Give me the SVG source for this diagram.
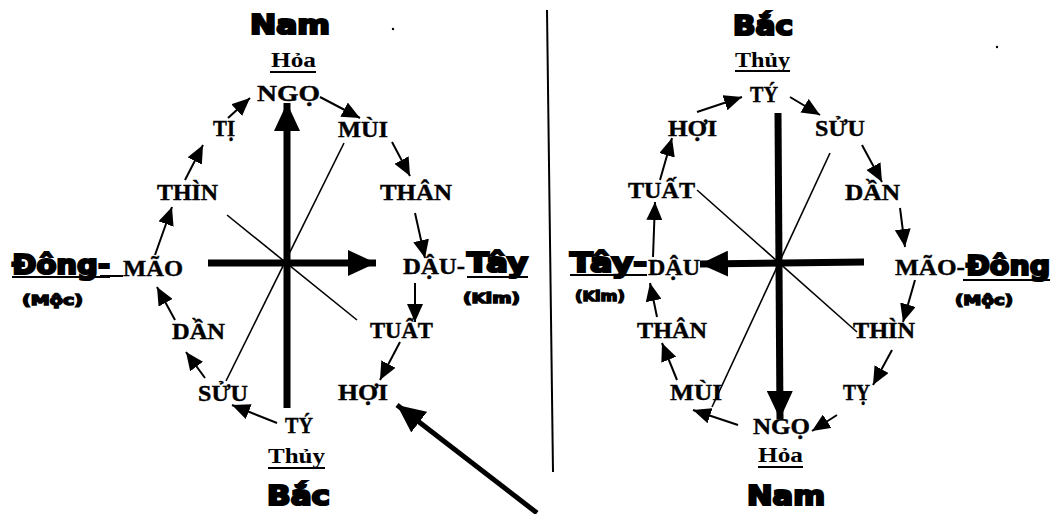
<svg xmlns="http://www.w3.org/2000/svg" width="1056" height="514" viewBox="0 0 1056 514">
<style>
.lb{font-family:"Liberation Serif",serif;font-weight:bold;font-size:23px;fill:#000;stroke:#000;stroke-width:0.4}
.el{font-family:"Liberation Serif",serif;font-weight:bold;font-size:20px;fill:#000}
.hv{font-family:"DejaVu Sans",sans-serif;font-weight:bold;font-size:26px;fill:#000;stroke:#000;stroke-width:2.2}
.sm{font-family:"DejaVu Sans",sans-serif;font-weight:bold;font-size:14px;fill:#000;stroke:#000;stroke-width:1.4}
.ul{stroke:#000;stroke-width:2}
.thin{stroke:#000;stroke-width:1.6;fill:none}
.sa{stroke:#000;stroke-width:2;fill:none;marker-end:url(#sh)}
.ta{stroke:#000;stroke-width:7;fill:none;marker-end:url(#bh)}
</style>
<defs>
<marker id="sh" markerUnits="userSpaceOnUse" viewBox="0 0 18 16" markerWidth="18" markerHeight="16" refX="18" refY="8" orient="auto"><path d="M0,0 L18,8 L0,16 Z" fill="#000"/></marker>
<marker id="bh" markerUnits="userSpaceOnUse" viewBox="0 0 28 26" markerWidth="28" markerHeight="26" refX="28" refY="13" orient="auto"><path d="M0,0 L28,13 L0,26 Z" fill="#000"/></marker>
</defs>
<rect width="1056" height="514" fill="#fff"/>

<g id="connectors">
<line x1="547" y1="10" x2="553" y2="472" stroke="#000" stroke-width="2"/>
<line class="thin" x1="344" y1="143" x2="226" y2="381"/>
<line class="thin" x1="227" y1="215" x2="357" y2="320"/>
<line class="thin" x1="697" y1="190" x2="857" y2="332"/>
<line class="thin" x1="830" y1="153" x2="712" y2="407"/>
<line class="ta" x1="287" y1="408" x2="287" y2="103"/>
<line class="ta" x1="208" y1="263" x2="376" y2="263"/>
<line class="ta" x1="778" y1="113" x2="780" y2="419"/>
<line class="ta" x1="864" y1="262" x2="700" y2="264"/>
<line x1="537" y1="513" x2="397" y2="405" stroke="#000" stroke-width="5" marker-end="url(#bh)"/>
<line class="sa" x1="277" y1="423" x2="232" y2="405"/>
<line class="sa" x1="205" y1="378" x2="186" y2="352"/>
<line class="sa" x1="175" y1="320" x2="157" y2="287"/>
<line class="sa" x1="155" y1="255" x2="172" y2="207"/>
<line class="sa" x1="185" y1="180" x2="203" y2="145"/>
<line class="sa" x1="228" y1="118" x2="250" y2="98"/>
<line class="sa" x1="320" y1="97" x2="360" y2="118"/>
<line class="sa" x1="392" y1="142" x2="410" y2="176"/>
<line class="sa" x1="415" y1="213" x2="425" y2="258"/>
<line class="sa" x1="415" y1="283" x2="415" y2="322"/>
<line class="sa" x1="400" y1="342" x2="380" y2="380"/>
<line class="sa" x1="790" y1="97" x2="820" y2="115"/>
<line class="sa" x1="862" y1="145" x2="882" y2="182"/>
<line class="sa" x1="900" y1="208" x2="905" y2="247"/>
<line class="sa" x1="915" y1="280" x2="903" y2="322"/>
<line class="sa" x1="892" y1="350" x2="873" y2="385"/>
<line class="sa" x1="837" y1="415" x2="812" y2="431"/>
<line class="sa" x1="738" y1="425" x2="693" y2="410"/>
<line class="sa" x1="677" y1="380" x2="662" y2="343"/>
<line class="sa" x1="657" y1="317" x2="650" y2="283"/>
<line class="sa" x1="653" y1="257" x2="655" y2="202"/>
<line class="sa" x1="660" y1="180" x2="672" y2="138"/>
<line class="sa" x1="697" y1="112" x2="742" y2="97"/>
<line class="ul" x1="100" y1="276" x2="123" y2="276"/>
</g>

<g id="l-nam"><text class="hv" x="250" y="34" textLength="80" lengthAdjust="spacingAndGlyphs">Nam</text></g>
<g id="l-hoa"><text class="el" x="271" y="67" textLength="45" lengthAdjust="spacingAndGlyphs">Hỏa</text><line class="ul" x1="270" y1="72" x2="316" y2="72"/></g>
<g id="l-ngo"><text class="lb" x="257" y="101" textLength="63" lengthAdjust="spacingAndGlyphs">NGỌ</text></g>
<g id="l-mui"><text class="lb" x="338" y="137" textLength="50" lengthAdjust="spacingAndGlyphs">MÙI</text></g>
<g id="l-than"><text class="lb" x="380" y="200" textLength="72" lengthAdjust="spacingAndGlyphs">THÂN</text></g>
<g id="l-dau"><text class="lb" x="403" y="274" textLength="62" lengthAdjust="spacingAndGlyphs">DẬU-</text></g>
<g id="l-tay"><text class="hv" x="467" y="272" textLength="61" lengthAdjust="spacingAndGlyphs">Tây</text><line class="ul" x1="467" y1="277" x2="528" y2="277"/><text class="sm" x="463" y="303" textLength="57" lengthAdjust="spacingAndGlyphs">(Kim)</text></g>
<g id="l-tuat"><text class="lb" x="370" y="338" textLength="63" lengthAdjust="spacingAndGlyphs">TUẤT</text></g>
<g id="l-hoi"><text class="lb" x="338" y="400" textLength="50" lengthAdjust="spacingAndGlyphs">HỢI</text></g>
<g id="l-ty"><text class="lb" x="285" y="433" textLength="28" lengthAdjust="spacingAndGlyphs">TÝ</text></g>
<g id="l-thuy"><text class="el" x="268" y="463" textLength="57" lengthAdjust="spacingAndGlyphs">Thủy</text><line class="ul" x1="268" y1="468" x2="325" y2="468"/></g>
<g id="l-bac"><text class="hv" x="267" y="505" textLength="63" lengthAdjust="spacingAndGlyphs">Bắc</text></g>
<g id="l-suu"><text class="lb" x="198" y="401" textLength="50" lengthAdjust="spacingAndGlyphs">SỬU</text></g>
<g id="l-dan"><text class="lb" x="172" y="339" textLength="53" lengthAdjust="spacingAndGlyphs">DẦN</text></g>
<g id="l-mao"><text class="lb" x="123" y="276" textLength="60" lengthAdjust="spacingAndGlyphs">MÃO</text></g>
<g id="l-dong"><text class="hv" x="12" y="274" textLength="98" lengthAdjust="spacingAndGlyphs">Đông-</text><line class="ul" x1="12" y1="277" x2="110" y2="277"/><text class="sm" x="22" y="305" textLength="61" lengthAdjust="spacingAndGlyphs">(Mộc)</text></g>
<g id="l-thin"><text class="lb" x="157" y="200" textLength="61" lengthAdjust="spacingAndGlyphs">THÌN</text></g>
<g id="l-ti"><text class="lb" x="213" y="136" textLength="22" lengthAdjust="spacingAndGlyphs">TỊ</text></g>

<g id="r-bac"><text class="hv" x="733" y="35" textLength="60" lengthAdjust="spacingAndGlyphs">Bắc</text></g>
<g id="r-thuy"><text class="el" x="735" y="67" textLength="55" lengthAdjust="spacingAndGlyphs">Thủy</text><line class="ul" x1="735" y1="71" x2="790" y2="71"/></g>
<g id="r-ty"><text class="lb" x="750" y="102" textLength="28" lengthAdjust="spacingAndGlyphs">TÝ</text></g>
<g id="r-suu"><text class="lb" x="815" y="136" textLength="50" lengthAdjust="spacingAndGlyphs">SỬU</text></g>
<g id="r-dan"><text class="lb" x="845" y="200" textLength="55" lengthAdjust="spacingAndGlyphs">DẦN</text></g>
<g id="r-mao"><text class="lb" x="895" y="275" textLength="70" lengthAdjust="spacingAndGlyphs">MÃO-</text></g>
<g id="r-dong"><text class="hv" x="966" y="275" textLength="84" lengthAdjust="spacingAndGlyphs">Đông</text><line class="ul" x1="963" y1="280" x2="1050" y2="280"/><text class="sm" x="955" y="305" textLength="58" lengthAdjust="spacingAndGlyphs">(Mộc)</text></g>
<g id="r-thin"><text class="lb" x="853" y="338" textLength="62" lengthAdjust="spacingAndGlyphs">THÌN</text></g>
<g id="r-ti"><text class="lb" x="843" y="400" textLength="27" lengthAdjust="spacingAndGlyphs">TỴ</text></g>
<g id="r-ngo"><text class="lb" x="753" y="434" textLength="57" lengthAdjust="spacingAndGlyphs">NGỌ</text></g>
<g id="r-hoa"><text class="el" x="758" y="462" textLength="45" lengthAdjust="spacingAndGlyphs">Hỏa</text><line class="ul" x1="758" y1="467" x2="803" y2="467"/></g>
<g id="r-nam"><text class="hv" x="747" y="505" textLength="78" lengthAdjust="spacingAndGlyphs">Nam</text></g>
<g id="r-mui"><text class="lb" x="670" y="400" textLength="52" lengthAdjust="spacingAndGlyphs">MÙI</text></g>
<g id="r-than"><text class="lb" x="637" y="338" textLength="70" lengthAdjust="spacingAndGlyphs">THÂN</text></g>
<g id="r-dau"><text class="lb" x="648" y="275" textLength="52" lengthAdjust="spacingAndGlyphs">DẬU</text></g>
<g id="r-tay"><text class="hv" x="570" y="272" textLength="77" lengthAdjust="spacingAndGlyphs">Tây-</text><line class="ul" x1="570" y1="275" x2="647" y2="275"/><text class="sm" x="575" y="301" textLength="50" lengthAdjust="spacingAndGlyphs">(Kim)</text></g>
<g id="r-tuat"><text class="lb" x="628" y="198" textLength="67" lengthAdjust="spacingAndGlyphs">TUẤT</text></g>
<g id="r-hoi"><text class="lb" x="668" y="136" textLength="49" lengthAdjust="spacingAndGlyphs">HỢI</text></g>

<circle cx="393" cy="29" r="1.2" fill="#000"/>
<circle cx="997" cy="47" r="1.2" fill="#000"/>
</svg>
